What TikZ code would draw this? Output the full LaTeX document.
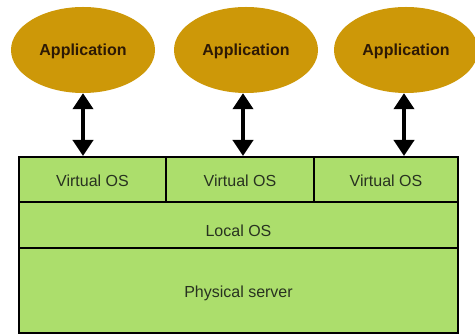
\documentclass[tikz,border=0pt]{standalone}
\usepackage{fontspec}
\setmainfont{Liberation Sans}
\usetikzlibrary{shapes.geometric,arrows.meta}
\definecolor{appfill}{RGB}{205,152,8}
\definecolor{layerfill}{RGB}{172,222,108}
\definecolor{layertext}{RGB}{40,50,32}
\definecolor{apptext}{RGB}{45,25,5}
\tikzset{
  app/.style={ellipse, fill=appfill, minimum width=144pt, minimum height=86pt, inner sep=0pt},
  appname/.style={anchor=base, inner sep=0pt, font=\fontsize{16}{18}\selectfont\bfseries, text=apptext},
  layer/.style={draw=black, line width=2pt, fill=layerfill, inner sep=0pt},
  layername/.style={anchor=base, inner sep=0pt, font=\fontsize{16}{18}\selectfont, text=layertext},
  link/.style={line width=4pt, {Triangle[width=20pt,length=16pt]}-{Triangle[width=20pt,length=16pt]}}
}
\begin{document}
\begin{tikzpicture}[x=1pt,y=-1pt]
  \useasboundingbox (0,0) rectangle (475,336);
  % hardware and host layers
  \node[layer, minimum width=439pt, minimum height=85pt] (phys) at (238.5,290.5) {};
  \node[layer, minimum width=439pt, minimum height=46pt] (host) at (238.5,225) {};
  % guest systems
  \node[layer, minimum width=147pt, minimum height=45pt] (v1) at (92.5,179.5) {};
  \node[layer, minimum width=148pt, minimum height=45pt] (v2) at (240,179.5) {};
  \node[layer, minimum width=144pt, minimum height=45pt] (v3) at (386,179.5) {};
  % layer captions, placed on their baselines
  \node[layername] (physname) at (238.5,298) {Physical server};
  \node[layername] (hostname) at (238.5,237) {Local OS};
  \node[layername] (v1name) at (92.5,187) {Virtual OS};
  \node[layername] (v2name) at (240,187) {Virtual OS};
  \node[layername] (v3name) at (386,187) {Virtual OS};
  % applications
  \node[app] (a1) at (83,50) {};
  \node[app] (a2) at (246,50) {};
  \node[app] (a3) at (406,50) {};
  \node[appname] (a1name) at (83,55.5) {Application};
  \node[appname] (a2name) at (246,55.5) {Application};
  \node[appname] (a3name) at (406,55.5) {Application};
  % two-way links
  \draw[link] (a1.south) -- (a1.south |- v1.north);
  \draw[link] (a2.south -| 243,0) -- (243,0 |- v2.north);
  \draw[link] (a3.south -| 404,0) -- (404,0 |- v3.north);
\end{tikzpicture}
\end{document}
